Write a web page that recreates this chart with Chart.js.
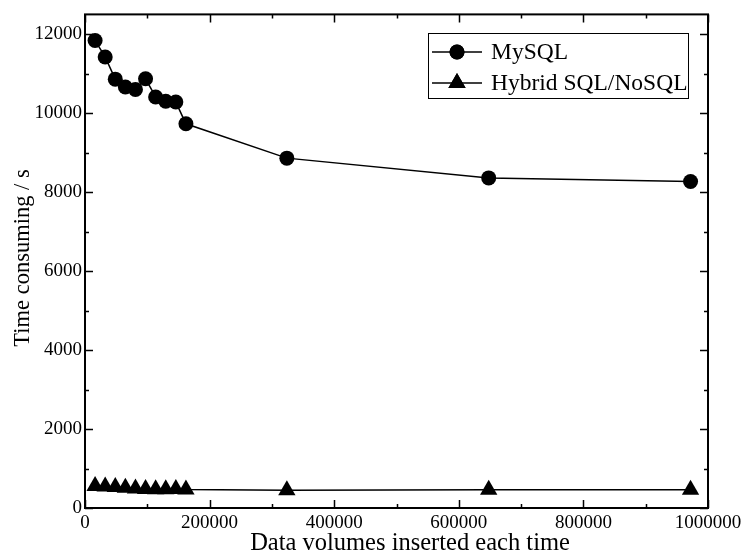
<!DOCTYPE html>
<html>
<head>
<meta charset="utf-8">
<script src="https://cdn.jsdelivr.net/npm/chart.js@4/dist/chart.umd.min.js"></script>
<style>
  html, body { margin: 0; padding: 0; background: #fff; }
  #wrap { width: 746px; height: 554px; }
</style>
</head>
<body>
<div id="wrap"><canvas id="chart" width="746" height="554"></canvas></div>
<script>
// values
const volumes = [16200, 32400, 48600, 64800, 81000, 97200, 113400, 129600, 145800, 162000, 324000, 648000, 972000];
const mysqlTimes = [11840, 11420, 10860, 10660, 10600, 10870, 10410, 10300, 10280, 9730, 8860, 8360, 8270];
const hybridTimes = [560, 545, 530, 510, 495, 480, 475, 475, 480, 470, 450, 460, 460];
const xTicks = [0, 200000, 400000, 600000, 800000, 1000000];
const yTicks = [0, 2000, 4000, 6000, 8000, 10000, 12000];

const serif = "'Liberation Serif', 'DejaVu Serif', serif";

function toPoints(xs, ys) {
  return xs.map((x, i) => ({ x: x, y: ys[i] }));
}

// frame, inward ticks on all four sides, legend box and axis titles
const framePlugin = {
  id: "frame",
  afterDraw(chart) {
    const ctx = chart.ctx;
    const a = chart.chartArea;
    const xs = chart.scales.x;
    const ys = chart.scales.y;
    ctx.save();
    ctx.strokeStyle = "#000";
    ctx.lineWidth = 2;
    ctx.strokeRect(a.left, a.top, a.right - a.left, a.bottom - a.top);

    ctx.lineWidth = 1.5;
    ctx.beginPath();
    for (let v = 0; v <= 1000000; v += 100000) {
      const px = Math.round(xs.getPixelForValue(v)) + 0.5;
      const len = v % 200000 === 0 ? 8 : 4;
      ctx.moveTo(px, a.bottom); ctx.lineTo(px, a.bottom - len);
      ctx.moveTo(px, a.top); ctx.lineTo(px, a.top + len);
    }
    for (let v = 0; v <= 12000; v += 1000) {
      const py = Math.round(ys.getPixelForValue(v)) + 0.5;
      const len = v % 2000 === 0 ? 8 : 4;
      ctx.moveTo(a.left, py); ctx.lineTo(a.left + len, py);
      ctx.moveTo(a.right, py); ctx.lineTo(a.right - len, py);
    }
    ctx.stroke();

    // legend
    ctx.fillStyle = "#fff";
    ctx.fillRect(428, 33, 260, 65);
    ctx.lineWidth = 1;
    ctx.strokeRect(428.5, 33.5, 260, 65);
    const rows = [
      { label: "MySQL", y: 52, style: "circle", r: 7.5 },
      { label: "Hybrid SQL/NoSQL", y: 83, style: "triangle", r: 10 }
    ];
    rows.forEach((row) => {
      ctx.lineWidth = 1.5;
      ctx.strokeStyle = "#000";
      ctx.beginPath();
      ctx.moveTo(432, row.y);
      ctx.lineTo(482, row.y);
      ctx.stroke();
      ctx.fillStyle = "#000";
      Chart.helpers.drawPoint(ctx, { pointStyle: row.style, radius: row.r, borderWidth: 0, rotation: 0 }, 457, row.y);
      ctx.fill();
      ctx.font = "23.5px " + serif;
      ctx.textAlign = "left";
      ctx.textBaseline = "middle";
      ctx.fillText(row.label, 491, row.y + 1);
    });

    // axis titles
    ctx.fillStyle = "#000";
    ctx.font = "24.5px " + serif;
    ctx.textAlign = "center";
    ctx.textBaseline = "alphabetic";
    ctx.fillText("Data volumes inserted each time", 410, 550);
    ctx.font = "22.5px " + serif;
    ctx.save();
    ctx.translate(29, 258);
    ctx.rotate(-Math.PI / 2);
    ctx.fillText("Time consuming / s", 0, 0);
    ctx.restore();
    ctx.restore();
  }
};

new Chart(document.getElementById("chart"), {
  type: "line",
  data: {
    datasets: [
      {
        label: "MySQL",
        data: toPoints(volumes, mysqlTimes),
        borderColor: "#000",
        backgroundColor: "#000",
        borderWidth: 1.5,
        pointStyle: "circle",
        pointRadius: 7.5,
        pointBorderWidth: 0,
        tension: 0
      },
      {
        label: "Hybrid SQL/NoSQL",
        data: toPoints(volumes, hybridTimes),
        borderColor: "#000",
        backgroundColor: "#000",
        borderWidth: 1.5,
        pointStyle: "triangle",
        pointRadius: 10,
        pointBorderWidth: 0,
        tension: 0
      }
    ]
  },
  options: {
    responsive: false,
    animation: false,
    clip: false,
    layout: { padding: { top: 13, right: 38, left: 0, bottom: 0 } },
    plugins: {
      legend: { display: false },
      tooltip: { enabled: false }
    },
    scales: {
      x: {
        type: "linear",
        min: 0,
        max: 1000000,
        grid: { display: false, drawTicks: false },
        border: { display: false },
        afterBuildTicks: (axis) => { axis.ticks = xTicks.map((v) => ({ value: v })); },
        afterFit: (axis) => { axis.height = 46; },
        ticks: {
          padding: 4,
          maxRotation: 0,
          autoSkip: false,
          color: "#000",
          font: { family: serif, size: 19 },
          callback: (v) => String(v)
        }
      },
      y: {
        type: "linear",
        min: 0,
        max: 12500,
        grid: { display: false, drawTicks: false },
        border: { display: false },
        afterBuildTicks: (axis) => { axis.ticks = yTicks.map((v) => ({ value: v })); },
        afterFit: (axis) => { axis.width = 85; },
        ticks: {
          padding: 3,
          color: "#000",
          font: { family: serif, size: 19 },
          callback: (v) => String(v)
        }
      }
    }
  },
  plugins: [framePlugin]
});
</script>
</body>
</html>
